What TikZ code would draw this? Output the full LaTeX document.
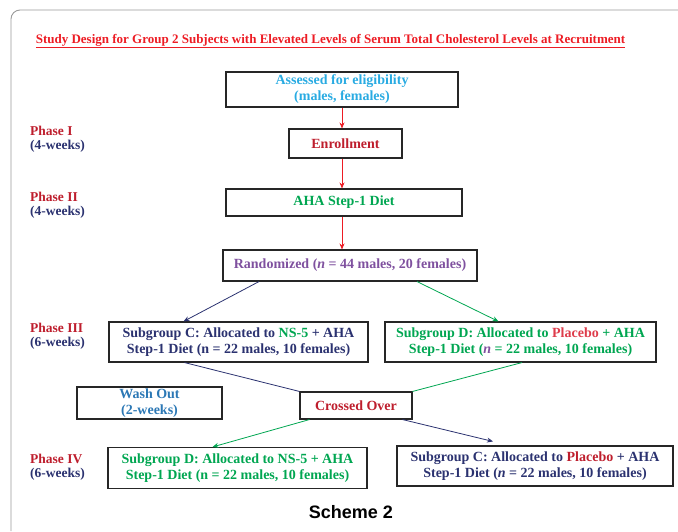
\documentclass[tikz,border=0pt]{standalone}
\usepackage{fontspec}
\setmainfont{Liberation Serif}
\setsansfont{Liberation Sans}
\usetikzlibrary{arrows.meta}

\definecolor{titlered}{HTML}{ED1C24}
\definecolor{darkred}{HTML}{BE1E2D}
\definecolor{pinkred}{HTML}{DE3C4B}
\definecolor{skyblue}{HTML}{29ABE2}
\definecolor{leafgreen}{HTML}{00A651}
\definecolor{violet}{HTML}{7F519F}
\definecolor{navy}{HTML}{2B3270}
\definecolor{steelblue}{HTML}{2C78B5}
\definecolor{framegray}{HTML}{9A9A9A}

\begin{document}
\begin{tikzpicture}[x=1pt, y=-1pt,
        box/.style={draw=black!85, line width=1.1pt, inner sep=0pt, align=center,
            font=\bfseries\fontsize{14}{16}\selectfont},
        phase/.style={anchor=west, align=left, inner sep=0pt,
            font=\bfseries\fontsize{13.5}{14}\selectfont},
        redarrow/.style={draw=titlered, line width=0.8pt, -{Stealth[length=6pt,width=5pt]}},
        navyarrow/.style={draw=navy, line width=0.8pt, -{Stealth[length=6pt,width=5pt]}},
        greenarrow/.style={draw=leafgreen, line width=0.8pt, -{Stealth[length=6pt,width=5pt]}}]
    \useasboundingbox (0,0) rectangle (678,531);
    \draw[framegray, line width=0.9pt, rounded corners=9pt] (11,531) -- (11,10) -- (678,10);

    \node[font=\bfseries\fontsize{13}{15}\selectfont] (title) at (330.5,41)
        {{\color{titlered}\underline{Study Design for Group 2 Subjects with Elevated Levels of Serum Total Cholesterol Levels at Recruitment}}};

    \node[box, minimum width=232pt, minimum height=35pt, text=skyblue] (assess) at (342,89.5)
        {Assessed for eligibility\\(males, females)};
    \node[box, minimum width=113pt, minimum height=29pt, text=darkred] (enrol) at (345.5,143.5) {Enrollment};
    \node[box, minimum width=236pt, minimum height=27pt, text=leafgreen] (diet) at (344,202.5) {AHA Step-1 Diet};
    \node[box, minimum width=254pt, minimum height=31pt, text=violet] (random) at (350,265.5)
        {Randomized (\textit{n} = 44 males, 20 females)};
    \node[box, minimum width=259pt, minimum height=40pt, text=navy] (subC) at (238.5,342)
        {Subgroup C: Allocated to \textcolor{leafgreen}{NS-5} + AHA\\Step-1 Diet (n = 22 males, 10 females)};
    \node[box, minimum width=271pt, minimum height=40pt, text=leafgreen] (subD) at (520.5,342)
        {Subgroup D: Allocated to \textcolor{pinkred}{Placebo} + AHA\\Step-1 Diet (\textcolor{violet}{\textit{n}} = 22 males, 10 females)};
    \node[box, minimum width=145pt, minimum height=32pt, text=steelblue] (wash) at (149.5,403)
        {Wash Out\\(2-weeks)};
    \node[box, minimum width=112pt, minimum height=27pt, text=darkred] (cross) at (356,405.5) {Crossed Over};
    \node[box, minimum width=259pt, minimum height=41pt, text=leafgreen] (subD2) at (237.5,468)
        {Subgroup D: Allocated to NS-5 + AHA\\Step-1 Diet (n = 22 males, 10 females)};
    \node[box, minimum width=276pt, minimum height=40pt, text=navy] (subC2) at (535,466)
        {Subgroup C: Allocated to \textcolor{darkred}{Placebo} + AHA\\Step-1 Diet (\textit{n} = 22 males, 10 females)};

    \node[phase] (ph1) at (30,139.5) {\textcolor{darkred}{Phase I}\\\textcolor{navy}{(4-weeks)}};
    \node[phase] (ph2) at (30,205.5) {\textcolor{darkred}{Phase II}\\\textcolor{navy}{(4-weeks)}};
    \node[phase] (ph3) at (30,336) {\textcolor{darkred}{Phase III}\\\textcolor{navy}{(6-weeks)}};
    \node[phase] (ph4) at (30,467.5) {\textcolor{darkred}{Phase IV}\\\textcolor{navy}{(6-weeks)}};

    \node[font=\sffamily\bfseries\fontsize{18}{20}\selectfont] (scheme) at (351,512) {Scheme 2};

    \draw[redarrow] (assess.south) -- (assess.south |- enrol.north);
    \draw[redarrow] (assess.south |- enrol.south) -- (assess.south |- diet.north);
    \draw[redarrow] (assess.south |- diet.south) -- (assess.south |- random.north);
    \draw[navyarrow] ([xshift=-91pt]random.south) -- ([xshift=-55pt]subC.north);
    \draw[greenarrow] ([xshift=67pt]random.south) -- ([xshift=-22pt]subD.north);
    \draw[navy, line width=0.8pt] ([xshift=-54pt]subC.south) -- (cross.north west);
    \draw[leafgreen, line width=0.8pt] ([xshift=1.5pt]subD.south) -- (cross.north east);
    \draw[greenarrow] ([xshift=10pt]cross.south west) -- ([xshift=-25pt]subD2.north);
    \draw[navyarrow] ([xshift=-10pt]cross.south east) -- ([xshift=-42pt,yshift=4pt]subC2.north);
\end{tikzpicture}
\end{document}
